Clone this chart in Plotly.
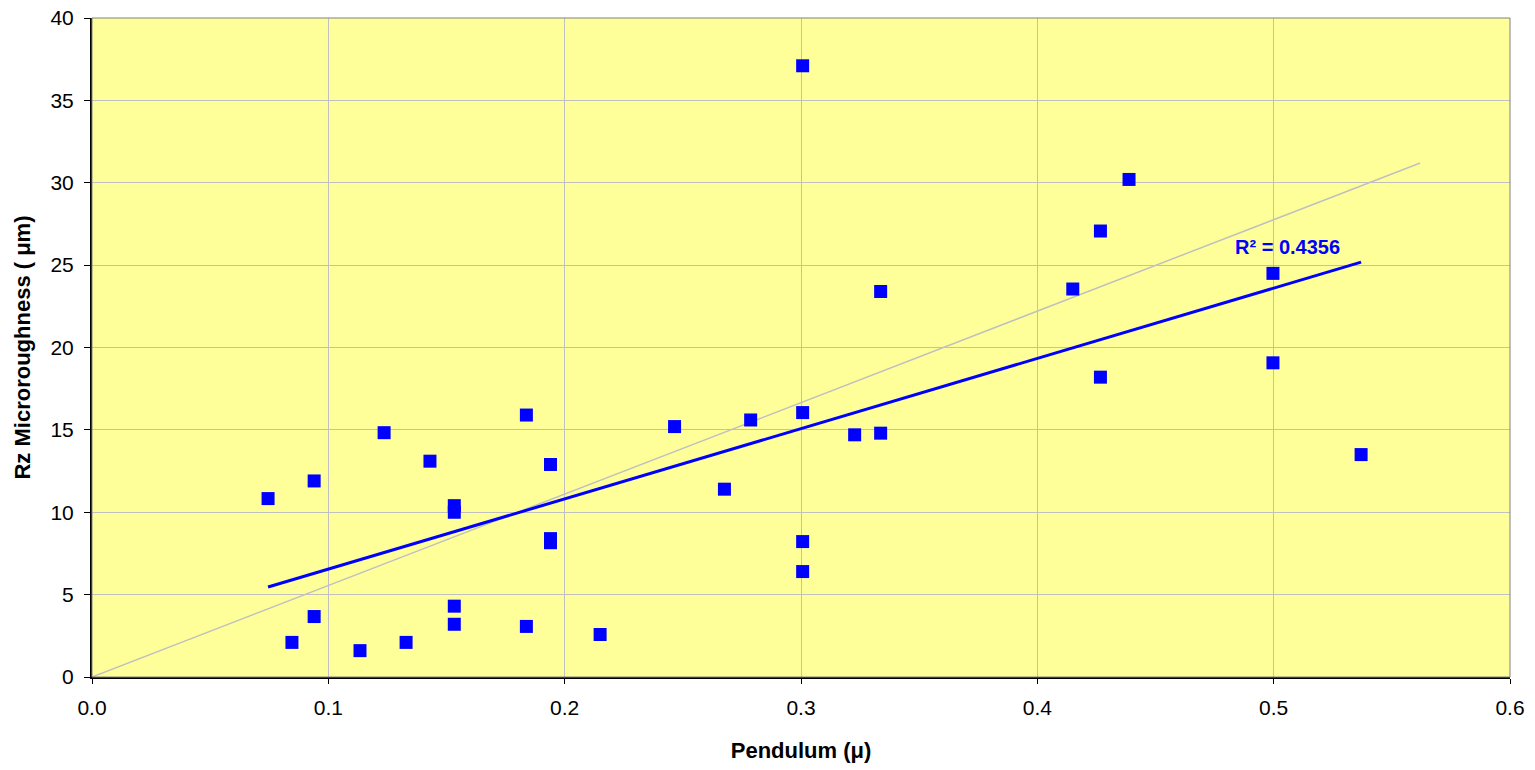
import numpy as np
import plotly.graph_objects as go

pendulum = [0.0745, 0.0846, 0.094, 0.094, 0.1134, 0.1236, 0.1329, 0.143, 0.1533, 0.1533,
            0.1533, 0.1533, 0.1838, 0.1838, 0.194, 0.194, 0.194, 0.215, 0.2465, 0.2676,
            0.2787, 0.3007, 0.3007, 0.3007, 0.3007, 0.3227, 0.3337, 0.3337, 0.415, 0.4267,
            0.4267, 0.4388, 0.4997, 0.4997, 0.537]
rz = [10.83, 2.10, 11.9, 3.67, 1.6, 14.83, 2.1, 13.1, 10.4, 10.0,
      4.3, 3.2, 15.9, 3.07, 12.9, 8.4, 8.15, 2.58, 15.2, 11.4,
      15.6, 37.1, 16.05, 8.22, 6.4, 14.7, 14.8, 23.4, 23.55, 27.07,
      18.2, 30.2, 24.5, 19.07, 13.5]

ref_x = [0.0, 0.562]
ref_y = [0.0, 31.2]
r2_text = "R² = 0.4356"

xs = np.array(pendulum)
ys = np.array(rz)
slope, intercept = np.polyfit(xs, ys, 1)
fit_x = [xs.min(), xs.max()]
fit_y = [slope * v + intercept for v in fit_x]

FONT = "Liberation Sans, Arial"

fig = go.Figure()
fig.add_trace(go.Scatter(x=ref_x, y=ref_y, mode="lines",
                         line=dict(color="#C0C0C0", width=1.5), hoverinfo="skip"))
fig.add_trace(go.Scatter(x=pendulum, y=rz, mode="markers",
                         marker=dict(symbol="square", size=13, color="#0000FF",
                                     line=dict(width=0))))
fig.add_trace(go.Scatter(x=fit_x, y=fit_y, mode="lines",
                         line=dict(color="#0000FF", width=3)))

fig.add_annotation(x=0.4997, y=fit_y[1], xref="x", yref="y", text="<b>" + r2_text + "</b>",
                   showarrow=False, yshift=15, xshift=15,
                   font=dict(family=FONT, size=20, color="#0000FF"))

fig.add_shape(type="rect", xref="paper", yref="paper", x0=0, y0=0, x1=1, y1=1,
              line=dict(color="#808080", width=1), layer="above")

fig.update_layout(
    width=1535, height=770,
    margin=dict(l=92, r=25, t=18, b=93, autoexpand=False),
    paper_bgcolor="white", plot_bgcolor="#FFFF99",
    showlegend=False,
    font=dict(family=FONT, size=21, color="black"),
)
fig.update_xaxes(range=[0, 0.6], dtick=0.1, tickformat=".1f",
                 showgrid=True, gridcolor="#C0C0C0", gridwidth=1,
                 showline=True, linecolor="black", linewidth=2,
                 ticks="outside", ticklen=5, tickcolor="black",
                 zeroline=False, tickfont=dict(size=21), automargin=False,
                 ticklabelstandoff=6,
                 title=dict(text="<b>Pendulum (μ)</b>", font=dict(size=22), standoff=24))
fig.update_yaxes(range=[0, 40], dtick=5,
                 showgrid=True, gridcolor="#C0C0C0", gridwidth=1,
                 showline=True, linecolor="black", linewidth=2,
                 ticks="outside", ticklen=6, tickcolor="black",
                 zeroline=False, tickfont=dict(size=21), automargin=False,
                 ticklabelstandoff=6,
                 title=dict(text="<b>Rz Microroughness ( μm)</b>", font=dict(size=22), standoff=14))

fig.write_html("out.html")
